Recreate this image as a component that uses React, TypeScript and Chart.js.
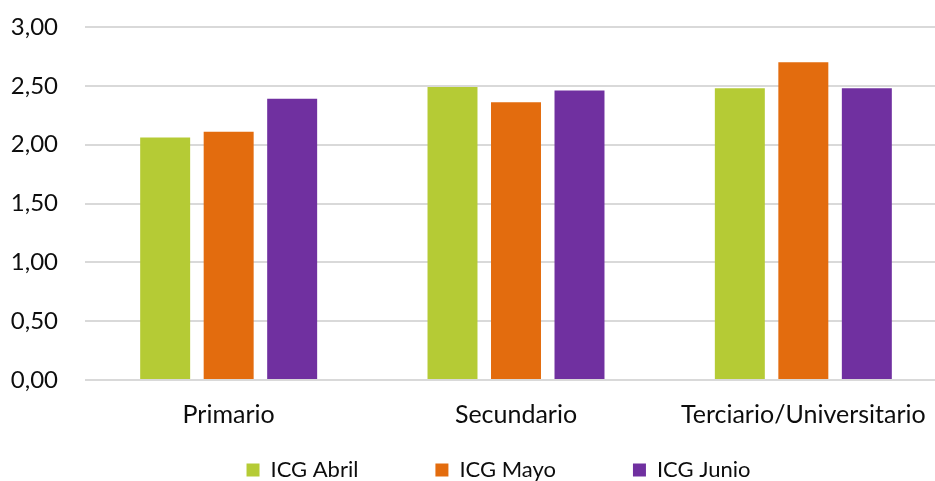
import React, { useEffect, useRef } from "react";
import { Chart, registerables } from "chart.js";

Chart.register(...registerables);

const categories = ["Primario", "Secundario", "Terciario/Universitario"];
const seriesNames = ["ICG Abril", "ICG Mayo", "ICG Junio"];
const icgAbril = [2.06, 2.49, 2.48];
const icgMayo = [2.11, 2.36, 2.7];
const icgJunio = [2.39, 2.46, 2.48];
const seriesColors = ["#B5CB35", "#E36C0E", "#7030A0"];
const yMin = 0;
const yMax = 3;
const yStep = 0.5;

const FONT = "Lato, 'Noto Sans', sans-serif";
const LEGEND_PAD = 77;
const LEGEND_H = 52;
const LEGEND_ITEM_OFFSET = 30;
const LEGEND_SHIFT = 25;

export default function App() {
  const ref = useRef<HTMLCanvasElement | null>(null);

  useEffect(() => {
    document.body.style.margin = "0";
    document.body.style.overflow = "hidden";
    const canvas = ref.current;
    if (!canvas) return;
    const values = [icgAbril, icgMayo, icgJunio];
    const chart = new Chart(canvas, {
      type: "bar",
      data: {
        labels: categories,
        datasets: seriesNames.map((name, i) => ({
          label: name,
          data: values[i],
          backgroundColor: seriesColors[i],
          borderWidth: 0,
          categoryPercentage: 0.663,
          barPercentage: 0.787,
        })),
      },
      options: {
        responsive: false,
        animation: false,
        layout: { padding: { top: 27, left: 0, right: 0, bottom: 0 } },
        plugins: {
          tooltip: { enabled: false },
          legend: {
            position: "bottom",
            labels: {
              boxWidth: 13,
              boxHeight: 13,
              padding: LEGEND_PAD,
              color: "#0d0d0d",
              font: { family: FONT, size: 22 },
            },
          },
        },
        scales: {
          x: {
            grid: { display: false, drawTicks: false },
            border: { display: false },
            afterFit: (scale: any) => {
              scale.height = 49;
            },
            ticks: {
              color: "#0d0d0d",
              padding: 20,
              font: { family: FONT, size: 25 },
              maxRotation: 0,
            },
          },
          y: {
            min: yMin,
            max: yMax,
            border: { display: false },
            grid: {
              color: "#d9d9d9",
              lineWidth: 2,
              drawTicks: true,
              tickLength: 27,
              tickColor: "rgba(0,0,0,0)",
            },
            afterFit: (scale: any) => {
              scale.width = 85;
            },
            ticks: {
              stepSize: yStep,
              padding: 0,
              color: "#0d0d0d",
              font: { family: FONT, size: 24 },
              callback: (v: any) => Number(v).toFixed(2).replace(".", ","),
            },
          },
        },
      },
    });

    const lg: any = (chart as any).legend;
    if (lg) {
      const origFit = lg.fit.bind(lg);
      lg.fit = function () {
        origFit();
        this.height = LEGEND_H;
      };
      const origDraw = lg.draw.bind(lg);
      lg.draw = function (area: any) {
        const t = this.top, l = this.left, r = this.right;
        this.top = t - LEGEND_PAD + LEGEND_ITEM_OFFSET;
        this.left = l + LEGEND_SHIFT;
        this.right = r + LEGEND_SHIFT;
        origDraw(area);
        this.top = t;
        this.left = l;
        this.right = r;
      };
      chart.update();
    }

    return () => chart.destroy();
  }, []);

  return (
    <div style={{ width: 935, height: 481, overflow: "hidden" }}>
      <canvas ref={ref} width={947} height={481} />
    </div>
  );
}
